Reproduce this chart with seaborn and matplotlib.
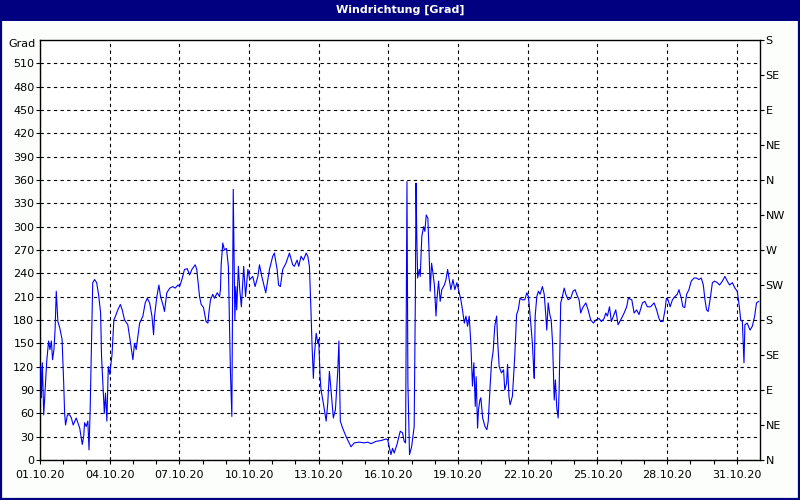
import numpy as np
import pandas as pd
import matplotlib
matplotlib.use("Agg")
import matplotlib.pyplot as plt
from matplotlib.patches import Rectangle
import seaborn as sns

# Zeit in Tagen ab 01.10.20 00:00, Richtung in Grad
tage = [
    0.03, 0.06, 0.10, 0.16, 0.22, 0.29, 0.37, 0.43, 0.49, 0.54, 0.60, 0.65, 0.70, 0.77, 0.85, 0.95,
    1.02, 1.06, 1.10, 1.18, 1.28, 1.35, 1.43, 1.56, 1.71, 1.82, 1.88, 1.92, 1.99, 2.06, 2.11, 2.16,
    2.22, 2.27, 2.35, 2.44, 2.52, 2.61, 2.65, 2.71, 2.77, 2.82, 2.88, 2.94, 3.01, 3.04, 3.10, 3.18,
    3.25, 3.35, 3.46, 3.54, 3.64, 3.78, 3.90, 4.00, 4.07, 4.14, 4.19, 4.29, 4.43, 4.53, 4.62, 4.72,
    4.82, 4.89, 4.93, 5.03, 5.12, 5.19, 5.29, 5.36, 5.46, 5.59, 5.72, 5.82, 5.94, 6.01, 6.11, 6.22,
    6.34, 6.44, 6.54, 6.68, 6.75, 6.87, 6.94, 7.04, 7.15, 7.23, 7.27, 7.34, 7.44, 7.51, 7.63, 7.73,
    7.77, 7.80, 7.87, 7.94, 8.03, 8.11, 8.20, 8.26, 8.32, 8.39, 8.43, 8.47, 8.54, 8.60, 8.67, 8.77,
    8.85, 8.95, 9.03, 9.16, 9.26, 9.38, 9.45, 9.55, 9.72, 9.88, 10.02, 10.09, 10.21, 10.27, 10.35,
    10.45, 10.59, 10.74, 10.88, 10.95, 11.07, 11.14, 11.24, 11.34, 11.46, 11.53, 11.60, 11.67, 11.71,
    11.77, 11.81, 11.89, 11.96, 12.00, 12.06, 12.10, 12.20, 12.32, 12.39, 12.46, 12.53, 12.63, 12.72,
    12.82, 12.87, 12.93, 13.03, 13.18, 13.39, 13.53, 13.75, 13.96, 14.11, 14.25, 14.47, 14.68, 14.90,
    14.97, 15.11, 15.18, 15.25, 15.37,
    15.51, 15.61, 15.68, 15.74, 15.77, 15.80, 15.84, 15.91, 16.00, 16.11, 16.16, 16.19, 16.22, 16.26,
    16.33, 16.37, 16.44, 16.52, 16.57, 16.63, 16.70, 16.76, 16.80, 16.86, 16.92, 16.98, 17.05, 17.09,
    17.16, 17.23, 17.30, 17.41, 17.48, 17.55, 17.62, 17.69, 17.78, 17.86, 17.95, 18.05, 18.12, 18.19,
    18.27, 18.34, 18.41, 18.48, 18.55, 18.62, 18.68, 18.74, 18.78, 18.84, 18.88, 18.94, 18.98, 19.06,
    19.16, 19.24, 19.30, 19.38, 19.44, 19.51, 19.58, 19.66, 19.71, 19.77, 19.87, 19.96, 20.01, 20.09,
    20.13, 20.19, 20.24, 20.34, 20.44, 20.52, 20.59, 20.67, 20.77, 20.87, 20.96, 21.03, 21.13, 21.20,
    21.25, 21.28, 21.32, 21.39, 21.46, 21.53, 21.63, 21.71, 21.78, 21.82, 21.88, 21.95, 22.01, 22.07,
    22.14, 22.19, 22.25, 22.31, 22.35, 22.42, 22.49, 22.57, 22.64, 22.74, 22.85, 22.95, 23.04, 23.11,
    23.21, 23.28, 23.37, 23.50, 23.60, 23.71, 23.83, 23.93, 24.07, 24.17, 24.29, 24.36, 24.43, 24.52,
    24.60, 24.69, 24.79, 24.89, 25.00, 25.15, 25.26, 25.33, 25.48, 25.58, 25.69, 25.79, 25.94, 26.04,
    26.15, 26.29, 26.44, 26.55, 26.65, 26.72, 26.82, 26.91, 26.97, 27.04, 27.13, 27.23, 27.33, 27.44,
    27.51, 27.61, 27.68, 27.76, 27.84, 27.94, 28.04, 28.16, 28.26, 28.37, 28.47, 28.56, 28.63, 28.70,
    28.77, 28.87, 28.95, 29.05, 29.16, 29.26, 29.38, 29.49, 29.59, 29.69, 29.81, 29.92, 30.02, 30.09,
    30.17, 30.24, 30.31, 30.35, 30.45, 30.57, 30.67, 30.77, 30.85, 30.95,
]
grad = [
    120, 80, 125, 58, 90, 127, 153, 142, 153, 129, 142, 168, 217, 178, 170, 155,
    99, 60, 45, 58, 58, 54, 45, 54, 41, 20, 30, 48, 43, 50, 13, 65,
    155, 228, 232, 228, 213, 189, 133, 95, 60, 86, 50, 120, 110, 120, 135, 180,
    185, 193, 200, 193, 180, 174, 150, 129, 150, 142, 153, 176, 185, 202, 208, 202,
    185, 161, 185, 210, 225, 210, 200, 191, 215, 221, 223, 221, 225, 223, 232, 245,
    246, 238, 245, 251, 245, 210, 200, 196, 178, 176, 189, 206, 213, 208, 215, 210,
    219, 251, 279, 270, 272, 249, 112, 56, 348, 180, 223, 193, 249, 219, 197, 249,
    210, 245, 232, 236, 223, 236, 251, 236, 215, 245, 262, 266, 245, 225, 223,
    245, 253, 266, 251, 249, 257, 249, 262, 257, 266, 262, 249, 189, 150,
    105, 133, 163, 150, 155, 107, 90, 73, 50, 73, 114, 90, 54, 65,
    114, 153, 50, 41, 30, 17, 22, 23, 22, 23, 21, 24, 25, 27,
    26, 7, 15, 9, 20,
    37, 35, 24, 22, 191, 358, 99, 7, 17, 43, 204, 356, 292, 234,
    245, 236, 288, 300, 294, 315, 311, 260, 217, 253, 240, 225, 185, 206,
    230, 204, 219, 225, 232, 245, 232, 219, 232, 219, 228, 215, 206, 193,
    176, 185, 172, 185, 150, 95, 125, 69, 107, 41, 65, 77, 80, 54,
    43, 39, 50, 95, 125, 140, 172, 185, 150, 120, 112, 116, 90, 99,
    123, 82, 71, 82, 133, 187, 193, 208, 206, 206, 215, 210, 176, 150,
    120, 105, 185, 210, 217, 213, 223, 213, 185, 167, 202, 187, 180, 150,
    77, 103, 67, 54, 88, 202, 210, 221, 213, 206, 208, 217, 219, 213,
    206, 189, 196, 202, 193, 180, 176, 180, 182, 178, 182, 189, 185, 197,
    178, 185, 193, 174, 180, 189, 197, 208, 206, 189, 193, 187, 202, 204,
    197, 197, 202, 193, 182, 178, 178, 193, 208, 206, 197, 206, 210, 213,
    219, 208, 197, 196, 213, 219, 230, 234, 234, 232, 234, 225, 206, 193,
    191, 210, 228, 230, 228, 225, 230, 236, 230, 225, 228, 221, 217, 202,
    180, 178, 125, 174, 176, 167, 172, 185, 202, 204,
]

datum_labels = ["01.10.20", "04.10.20", "07.10.20", "10.10.20", "13.10.20", "16.10.20",
                "19.10.20", "22.10.20", "25.10.20", "28.10.20", "31.10.20"]
grad_ticks = list(range(0, 540, 30))
richtung_labels = ["N", "NE", "E", "SE", "S", "SW", "W", "NW", "N", "NE", "E", "SE", "S"]

df = pd.DataFrame({"tag": tage, "grad": grad})

sns.set_style("white")
plt.rcParams["font.family"] = ["DejaVu Sans"]
plt.rcParams["font.size"] = 8
plt.rcParams["text.color"] = "black"
plt.rcParams["xtick.color"] = "black"
plt.rcParams["ytick.color"] = "black"

navy = "#000080"
fig = plt.figure(figsize=(8, 5), dpi=100, facecolor="#FCFEFC")

# Titelleiste + Rahmen
fig.patches.append(Rectangle((0, 1 - 21 / 500), 1, 21 / 500, transform=fig.transFigure,
                             facecolor=navy, edgecolor="none", zorder=0))
fig.patches.append(Rectangle((0.001, 0.002), 0.998, 0.996, transform=fig.transFigure,
                             facecolor="none", edgecolor=navy, linewidth=1.6, zorder=1))
fig.text(0.5, 1 - 10 / 500, "Windrichtung [Grad]", color="white", fontweight="bold",
         fontsize=8, ha="center", va="center")

ax = fig.add_axes([40 / 800, 40 / 500, 720 / 800, 420 / 500])
ax.set_facecolor("white")
sns.lineplot(data=df, x="tag", y="grad", ax=ax, color="#0000FF", linewidth=0.8, zorder=3)

ax.set_xlim(0, 31)
ax.set_ylim(0, 540)
ax.set_xticks(np.arange(0, 31, 3))
ax.set_xticklabels(datum_labels)
ax.set_xticks(np.arange(0, 31, 1), minor=True)
ax.set_yticks(grad_ticks)
ax.set_xlabel("")
ax.set_ylabel("")
ax.tick_params(axis="both", which="both", direction="out", length=3, width=0.8,
               color="black", labelcolor="black", labelsize=8)
ax.tick_params(axis="x", which="both", bottom=True, pad=4)
ax.tick_params(axis="y", left=True, pad=1)
ax.grid(True, which="major", color="black", linestyle=(0, (3, 3)), linewidth=0.8)
for s in ax.spines.values():
    s.set_visible(True)
    s.set_color("black")
    s.set_linewidth(1)

ax2 = ax.twinx()
ax2.set_ylim(0, 540)
ax2.set_yticks(np.arange(0, 541, 45))
ax2.set_yticklabels(richtung_labels)
ax2.tick_params(axis="y", right=True, direction="out", length=3, width=0.8, pad=1,
                color="black", labelcolor="black", labelsize=8)
ax2.grid(False)
for s in ax2.spines.values():
    s.set_visible(False)

fig.text(36 / 800, 1 - 44 / 500, "Grad", ha="right", va="center", fontsize=8, color="black")

fig.savefig("out.png", dpi=100, facecolor=fig.get_facecolor())
